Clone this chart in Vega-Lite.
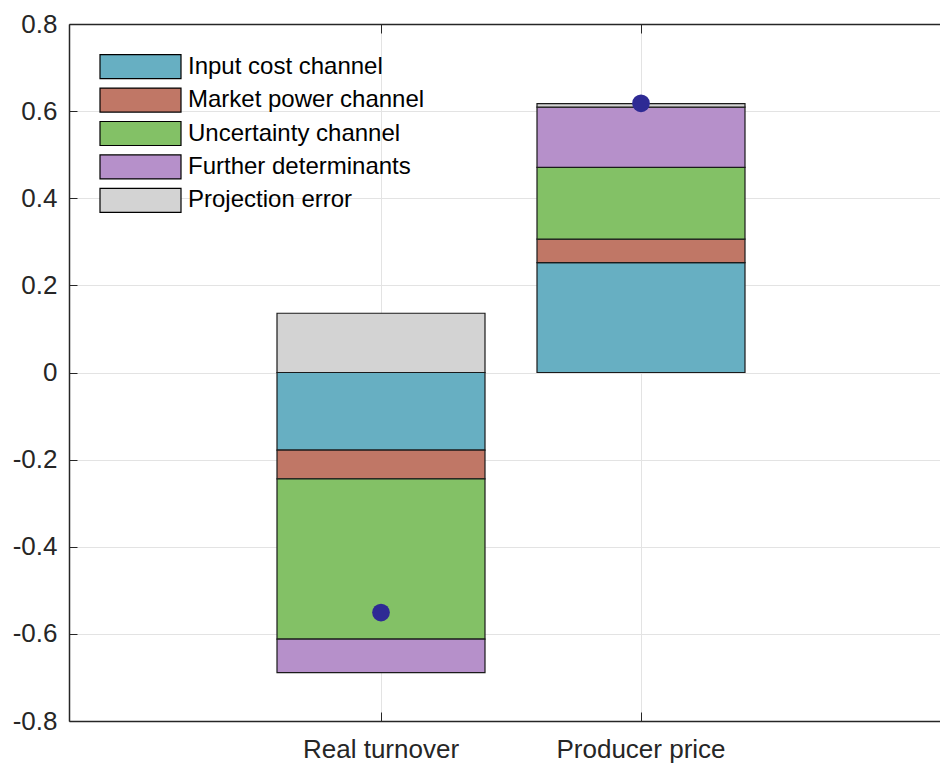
{
  "$schema": "https://vega.github.io/schema/vega-lite/v6.json",
  "autosize": "none",
  "padding": {"left": 69, "top": 24, "right": 0, "bottom": 43},
  "width": 884,
  "height": 697,
  "background": "white",
  "config": {
    "font": "Liberation Sans",
    "view": {"stroke": null},
    "axis": {
      "domainColor": "#262626",
      "tickColor": "#262626",
      "labelColor": "#262626",
      "labelFont": "Liberation Sans",
      "labelFontSize": 26,
      "gridColor": "#e3e3e3",
      "gridWidth": 1,
      "title": null
    }
  },
  "datasets": {
    "parts": [
      {"variable": "Real turnover", "channel": "Input cost channel", "rank": 1, "value": -0.178},
      {"variable": "Real turnover", "channel": "Market power channel", "rank": 2, "value": -0.066},
      {"variable": "Real turnover", "channel": "Uncertainty channel", "rank": 3, "value": -0.368},
      {"variable": "Real turnover", "channel": "Further determinants", "rank": 4, "value": -0.077},
      {"variable": "Real turnover", "channel": "Projection error", "rank": 5, "value": 0.136},
      {"variable": "Producer price", "channel": "Input cost channel", "rank": 1, "value": 0.252},
      {"variable": "Producer price", "channel": "Market power channel", "rank": 2, "value": 0.054},
      {"variable": "Producer price", "channel": "Uncertainty channel", "rank": 3, "value": 0.165},
      {"variable": "Producer price", "channel": "Further determinants", "rank": 4, "value": 0.138},
      {"variable": "Producer price", "channel": "Projection error", "rank": 5, "value": 0.008}
    ],
    "totals": [
      {"variable": "Real turnover", "total": -0.551},
      {"variable": "Producer price", "total": 0.618}
    ]
  },
  "layer": [
    {
      "data": {"name": "parts"},
      "mark": {"type": "bar", "stroke": "#1a1a1a", "strokeWidth": 1.2},
      "encoding": {
        "x": {
          "field": "variable",
          "type": "nominal",
          "sort": ["Real turnover", "Producer price"],
          "scale": {"paddingInner": 0.2, "paddingOuter": 0.8},
          "axis": {
            "orient": "bottom",
            "labelAngle": 0,
            "tickSize": -9,
            "labelPadding": 24,
            "grid": true,
            "domainWidth": 1.5
          }
        },
        "y": {
          "field": "value",
          "type": "quantitative",
          "stack": "zero",
          "scale": {"domain": [-0.8, 0.8], "nice": false},
          "axis": {
            "orient": "left",
            "values": [-0.8, -0.6, -0.4, -0.2, 0, 0.2, 0.4, 0.6, 0.8],
            "labelExpr": "replace(format(datum.value, '~g'), '\u2212', '-')",
            "tickSize": -8,
            "labelPadding": 20,
            "grid": true,
            "domainWidth": 1.5
          }
        },
        "order": {"field": "rank", "type": "quantitative"},
        "color": {
          "field": "channel",
          "type": "nominal",
          "scale": {
            "domain": ["Input cost channel", "Market power channel", "Uncertainty channel", "Further determinants", "Projection error"],
            "range": ["#67afc2", "#c07766", "#83c166", "#b690ca", "#d3d3d3"]
          },
          "legend": {
            "orient": "none",
            "legendX": 30,
            "legendY": 29.7,
            "title": null,
            "padding": 0,
            "symbolType": "M-1,-1H5.75V1H-1Z",
            "symbolSize": 576,
            "symbolStrokeColor": "#000000",
            "symbolStrokeWidth": 1.2,
            "symbolOpacity": 1,
            "labelFont": "Liberation Sans",
            "labelFontSize": 24,
            "labelColor": "#000000",
            "labelOffset": 63,
            "rowPadding": 3.4,
            "labelLimit": 400
          }
        }
      }
    },
    {
      "mark": {"type": "rule", "color": "#000000", "strokeWidth": 1},
      "encoding": {"y": {"datum": 0}}
    },
    {
      "data": {"name": "totals"},
      "mark": {"type": "circle", "size": 314, "color": "#2e2a94", "opacity": 1},
      "encoding": {
        "x": {
          "field": "variable",
          "type": "nominal",
          "sort": ["Real turnover", "Producer price"],
          "axis": {
            "orient": "top",
            "labels": false,
            "tickSize": -9,
            "grid": false,
            "domainWidth": 1.5
          }
        },
        "y": {"field": "total", "type": "quantitative"}
      }
    }
  ],
  "resolve": {"axis": {"x": "independent"}}
}
